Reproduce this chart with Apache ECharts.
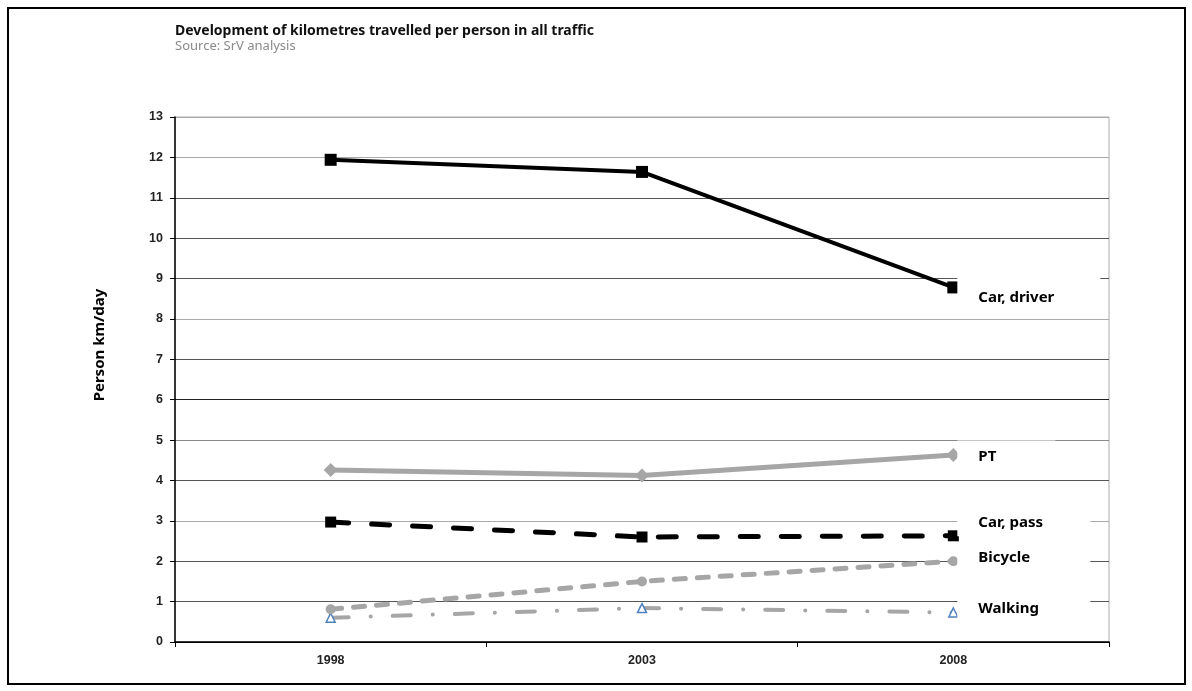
<!DOCTYPE html>
<html>
<head>
<meta charset="utf-8">
<title>Kilometres travelled per person</title>
<script src="https://cdn.jsdelivr.net/npm/echarts@6/dist/echarts.min.js"></script>
<style>
  html, body { margin: 0; padding: 0; background: #fff; }
  #chart { width: 1192px; height: 691px; }
</style>
</head>
<body>
<div id="chart"></div>
<script>
// Survey years on the category axis
const years = ['1998', '2003', '2008'];

// Person km per day, by mode
const carDriver = [11.94, 11.64, 8.78];
const publicTransport = [4.26, 4.12, 4.63];
const carPassenger = [2.97, 2.60, 2.63];
const bicycle = [0.81, 1.50, 2.00];
const walking = [0.60, 0.84, 0.73];

// Series names as printed beside each line
const seriesNames = ['Car, driver', 'PT', 'Car, pass', 'Bicycle', 'Walking'];

const yTicks = { min: 0, max: 13, interval: 1 };

const FONT = '"Noto Sans", "Open Sans", sans-serif';
const AXIS_FONT = '"Liberation Sans", Arial, sans-serif';

// Gridline tones, one per value 0..13
const gridColors = ['#000', '#555', '#555', '#aaa', '#555', '#8a8a8a', '#222', '#555',
                    '#aaa', '#555', '#555', '#555', '#aaa', '#aaa'];

// Series name beside the last point, on a white box that masks the gridlines
function endLabel(dy, boxWidth, padTop, padBottom) {
  return {
    show: true,
    formatter: '{a}',
    color: '#000',
    fontFamily: FONT,
    fontWeight: 'bold',
    fontSize: 15,
    distance: 4,
    offset: [0, dy],
    width: boxWidth,
    backgroundColor: '#fff',
    padding: [padTop, 0, padBottom, 21]
  };
}

const chart = echarts.init(document.getElementById('chart'), null, { renderer: 'canvas' });

chart.setOption({
  animation: false,
  backgroundColor: '#fff',
  title: {
    text: 'Development of kilometres travelled per person in all traffic',
    subtext: 'Source: SrV analysis',
    left: 170,
    top: 19,
    itemGap: 2,
    textStyle: { fontFamily: FONT, fontWeight: 'bold', fontSize: 14, color: '#111' },
    subtextStyle: { fontFamily: FONT, fontSize: 13, color: '#8a8a8a' }
  },
  graphic: [
    {
      type: 'rect',
      shape: { x: 8, y: 8, width: 1177, height: 676 },
      style: { fill: 'none', stroke: '#000', lineWidth: 2 },
      silent: true
    },
    {
      type: 'text',
      x: 100,
      y: 345,
      rotation: Math.PI / 2,
      style: {
        text: 'Person km/day',
        fontFamily: FONT,
        fontWeight: 'bold',
        fontSize: 15,
        fill: '#000',
        align: 'center',
        verticalAlign: 'middle'
      }
    }
  ],
  grid: {
    left: 175,
    right: 83,
    top: 117,
    bottom: 49,
    show: true,
    borderColor: '#aaa',
    borderWidth: 1
  },
  xAxis: {
    type: 'category',
    data: years,
    boundaryGap: true,
    axisLine: { lineStyle: { color: '#000', width: 1.5 } },
    axisTick: { show: true, length: 5, lineStyle: { color: '#000' } },
    axisLabel: { fontFamily: AXIS_FONT, fontWeight: 'bold', fontSize: 12.5, color: '#222', margin: 12 },
    splitLine: { show: false }
  },
  yAxis: {
    type: 'value',
    min: yTicks.min,
    max: yTicks.max,
    interval: yTicks.interval,
    axisLine: { show: true, lineStyle: { color: '#000', width: 1.5 } },
    axisTick: { show: true, length: 5, lineStyle: { color: '#000' } },
    axisLabel: { fontFamily: AXIS_FONT, fontWeight: 'bold', fontSize: 12.5, color: '#222', margin: 12 },
    splitLine: { show: true, lineStyle: { color: gridColors, width: 1 } }
  },
  series: [
    {
      name: seriesNames[0],
      type: 'line',
      data: carDriver,
      symbol: 'rect',
      symbolSize: 12,
      itemStyle: { color: '#000' },
      lineStyle: { color: '#000', width: 4 },
      endLabel: endLabel(10, 122, 20, 7),
      z: 5
    },
    {
      name: seriesNames[1],
      type: 'line',
      data: publicTransport,
      symbol: 'diamond',
      symbolSize: 14,
      itemStyle: { color: '#a6a6a6' },
      lineStyle: { color: '#a6a6a6', width: 5 },
      endLabel: endLabel(2, 77, 9, 9),
      z: 4
    },
    {
      name: seriesNames[2],
      type: 'line',
      data: carPassenger,
      symbol: 'rect',
      symbolSize: 11,
      itemStyle: { color: '#000' },
      lineStyle: { color: '#000', width: 5, type: [18, 23], cap: 'round' },
      endLabel: endLabel(-13, 112, 6, 6),
      z: 3
    },
    {
      name: seriesNames[3],
      type: 'line',
      data: bicycle,
      symbol: 'circle',
      symbolSize: 10,
      itemStyle: { color: '#a6a6a6' },
      lineStyle: { color: '#a6a6a6', width: 5, type: [11, 12], cap: 'round' },
      endLabel: endLabel(-3, 112, 6, 6),
      z: 2
    },
    {
      name: seriesNames[4],
      type: 'line',
      data: walking,
      symbol: 'triangle',
      symbolSize: 9,
      itemStyle: { color: '#fff', borderColor: '#4f81bd', borderWidth: 1.5 },
      lineStyle: { color: '#a6a6a6', width: 4, type: [18, 22, 0.1, 22], cap: 'round' },
      endLabel: endLabel(-4, 112, 6, 6),
      z: 1
    }
  ]
});
</script>
</body>
</html>
